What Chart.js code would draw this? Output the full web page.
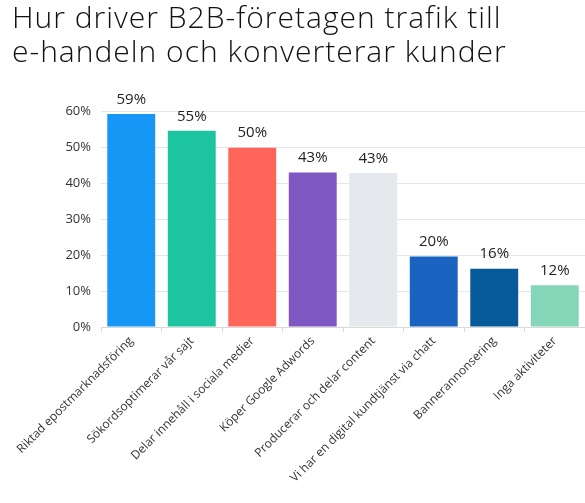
<!DOCTYPE html>
<html>
<head>
<meta charset="utf-8">
<script src="https://cdn.jsdelivr.net/npm/chart.js@4"></script>
<style>
  html, body { margin: 0; padding: 0; background: #fff; }
  #wrap { width: 585px; height: 503px; position: relative; }
  #title {
    position: absolute; left: 12px; top: 0; margin: 0;
    font-family: 'Open Sans', 'Noto Sans', sans-serif;
    font-weight: 300; font-size: 30px; line-height: 34px;
    letter-spacing: 1px; color: #111; white-space: nowrap;
  }
</style>
</head>
<body>
<div id="wrap">
  <h1 id="title"></h1>
  <canvas id="chart"></canvas>
</div>
<script>
const titleLines = ["Hur driver B2B-företagen trafik till", "e-handeln och konverterar kunder"];
const categories = [
  "Riktad epostmarknadsföring",
  "Sökordsoptimerar vår sajt",
  "Delar innehåll i sociala medier",
  "Köper Google Adwords",
  "Producerar och delar content",
  "Vi har en digital kundtjänst via chatt",
  "Bannerannonsering",
  "Inga aktiviteter"
];
const shares = [59.2, 54.5, 49.8, 42.9, 42.8, 19.6, 16.2, 11.6];
const barColors = ["#1696f5", "#1cc5a0", "#ff6559", "#7e57c2", "#e5e8ec", "#1b63c1", "#065a99", "#85d5b9"];
const yTicks = [0, 10, 20, 30, 40, 50, 60];

const FONT = "'Open Sans', 'Noto Sans', sans-serif";

document.getElementById("title").innerHTML = titleLines.join("<br>");

// writes the rounded percentage above each bar
const barLabels = {
  id: "barLabels",
  afterDatasetsDraw(chart) {
    const ctx = chart.ctx;
    const meta = chart.getDatasetMeta(0);
    ctx.save();
    ctx.font = "15px " + FONT;
    ctx.fillStyle = "#222";
    ctx.textAlign = "center";
    ctx.textBaseline = "bottom";
    meta.data.forEach((bar, i) => {
      ctx.fillText(Math.round(shares[i]) + "%", bar.x, bar.y - 7);
    });
    ctx.restore();
  }
};

new Chart(document.getElementById("chart"), {
  type: "bar",
  data: {
    labels: categories,
    datasets: [{
      data: shares,
      backgroundColor: barColors,
      borderWidth: 0,
      barPercentage: 0.9,
      categoryPercentage: 0.88
    }]
  },
  options: {
    responsive: true,
    maintainAspectRatio: false,
    animation: false,
    layout: { padding: { left: 12, right: 0, top: 111, bottom: 0 } },
    plugins: {
      legend: { display: false },
      tooltip: { enabled: false },
      title: { display: false }
    },
    scales: {
      y: {
        min: 0,
        max: 60,
        afterBuildTicks(axis) { axis.ticks = yTicks.map(v => ({ value: v })); },
        afterFit(axis) { axis.width = 89; },
        border: { display: false },
        grid: { color: "#e6e6e6", drawTicks: false },
        ticks: {
          padding: 10,
          color: "#333",
          font: { family: FONT, size: 13 },
          callback: v => v + "%"
        }
      },
      x: {
        afterFit(axis) { axis.height = 176; },
        border: { display: true, color: "#d9d9d9" },
        grid: { drawOnChartArea: false, drawTicks: true, tickLength: 5, color: "#d9d9d9" },
        ticks: {
          minRotation: 45,
          maxRotation: 45,
          autoSkip: false,
          padding: 2,
          color: "#333",
          font: { family: FONT, size: 12 }
        }
      }
    }
  },
  plugins: [barLabels]
});
</script>
</body>
</html>
